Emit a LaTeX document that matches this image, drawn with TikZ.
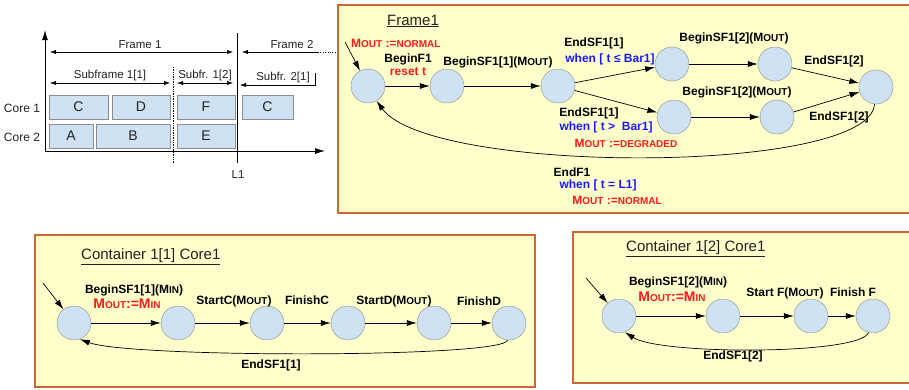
\documentclass[tikz,border=0pt]{standalone}
\usepackage{fontspec}
\setmainfont{Liberation Sans}
\usetikzlibrary{arrows.meta}
\definecolor{panelfill}{HTML}{FFFFCC}
\definecolor{panelline}{HTML}{CC6633}
\definecolor{statefill}{HTML}{CFE2F3}
\definecolor{stateline}{HTML}{8C8C8C}
\definecolor{condblue}{HTML}{1A1AFF}
\definecolor{actred}{HTML}{FF1A1A}
\definecolor{inkgray}{HTML}{222222}
\newcommand{\smallcap}[1]{{\fontsize{10}{11}\selectfont #1}}
\newcommand{\Mout}{M\smallcap{OUT}}
\newcommand{\Min}{M\smallcap{IN}}
\begin{document}
\begin{tikzpicture}[x=1pt,y=-1pt,
  state/.style={circle,draw=stateline,fill=statefill,minimum size=34pt,inner sep=0pt},
  trans/.style={-{Latex[length=10pt,width=6pt]},line width=0.7pt},
  lbl/.style={font=\bfseries\fontsize{12}{13}\selectfont,inner sep=0pt},
  cond/.style={lbl,text=condblue},
  act/.style={lbl,text=actred},
  slot/.style={draw=stateline,fill=statefill},
  plain/.style={font=\fontsize{11.5}{13}\selectfont,inner sep=0pt,text=inkgray},
  panel/.style={draw=panelline,line width=1.6pt,fill=panelfill},
  title/.style={font=\fontsize{15}{17}\selectfont,inner sep=0pt,anchor=west,text=inkgray}]
\useasboundingbox (0,0) rectangle (909,389);
\clip (0,0) rectangle (909,389);
% schedule of the frame
\draw[-{Latex[length=10pt,width=6pt]},line width=1pt] (45,151) -- (45,30);
\draw[-{Latex[length=10pt,width=6pt]},line width=0.8pt] (45,151) -- (325,151);
\draw[line width=0.8pt] (237,33) -- (237,163);
\node[plain] (lone) at (238,175) {L1};
\draw[densely dotted,line width=0.7pt] (173,67) -- (173,163);
\draw[{Latex[length=6pt,width=4pt]}-{Latex[length=6pt,width=4pt]}] (50,52) -- (233,52);
\node[plain] (frameone) at (140,45) {Frame 1};
\draw[-{Latex[length=6pt,width=4pt]}] (318,52) -- (242,52);
\draw[dotted] (318,52) -- (338,52);
\node[plain] (frametwo) at (292,45) {Frame 2};
\draw[{Latex[length=6pt,width=4pt]}-{Latex[length=6pt,width=4pt]}] (50,83) -- (170,83);
\node[plain] (subone) at (110,76) {Subframe 1[1]};
\draw[{Latex[length=6pt,width=4pt]}-{Latex[length=6pt,width=4pt]}] (177,83) -- (233,83);
\node[plain] (subtwo) at (205,76) {Subfr. 1[2]};
\draw[-{Latex[length=6pt,width=4pt]}] (315,73) -- (315,85) -- (240,85);
\node[plain] (subthree) at (283,78) {Subfr. 2[1]};
\node[plain,font=\fontsize{12}{13}\selectfont] (coreone) at (22,108) {Core 1};
\node[plain,font=\fontsize{12}{13}\selectfont] (coretwo) at (22,137) {Core 2};
\foreach \n/\a/\b/\t in {jc/49/108/C,jd/112/170/D,jf/177/235/F,jcc/242/293/C}
  \draw[slot] (\a,95) rectangle (\b,119) node[midway,plain,font=\fontsize{14}{15}\selectfont] (\n) {\t};
\foreach \n/\a/\b/\t in {ja/49/93/A,jb/96/170/B,je/177/235/E}
  \draw[slot] (\a,124) rectangle (\b,148) node[midway,plain,font=\fontsize{14}{15}\selectfont] (\n) {\t};
% Frame1 automaton
\draw[panel] (338,5) rectangle (920,213);
\node[title] (ftitle) at (387,21) {\underline{Frame1}};
\node[state] (s0) at (368,86) {};
\node[state] (s1) at (447,86) {};
\node[state] (s2) at (558,86) {};
\node[state] (s3) at (672,64) {};
\node[state] (s4) at (775,64) {};
\node[state] (s5) at (674,117) {};
\node[state] (s6) at (777,117) {};
\node[state] (s7) at (876,87) {};
\coordinate (fin) at (345,42);
\draw[line width=0.7pt,-{Latex[length=10pt,width=6pt]}] (fin) -- (s0);
\foreach \a/\b in {s0/s1,s1/s2,s2/s3,s2/s5,s3/s4,s5/s6,s4/s7,s6/s7}
  \draw[trans] (\a) -- (\b);
\draw[trans] (s7.265) .. controls (870,175) and (430,175) .. (s0.300);
\node[act,anchor=west] (initout) at (351,43) {\Mout\ :=\smallcap{NORMAL}};
\node[lbl] (beginf) at (408,59) {BeginF1};
\node[act] (resett) at (408,72) {reset t};
\node[lbl] (bsfa) at (498,62) {BeginSF1[1](\Mout)};
\node[lbl] (esfa) at (594,43) {EndSF1[1]};
\node[cond] (whenle) at (610,59) {when [ t ≤ Bar1]};
\node[lbl] (esfb) at (589,113) {EndSF1[1]};
\node[cond] (whengt) at (606,127) {when [ t >\ \ Bar1]};
\node[act] (degraded) at (626,143) {\Mout\ :=\smallcap{DEGRADED}};
\node[lbl] (bsfb) at (734,38) {BeginSF1[2](\Mout)};
\node[lbl] (bsfc) at (737,92) {BeginSF1[2](\Mout)};
\node[lbl] (esfc) at (834,61) {EndSF1[2]};
\node[lbl] (esfd) at (839,117) {EndSF1[2]};
\node[lbl] (endf) at (572,172) {EndF1};
\node[cond] (wheneq) at (598,185) {when [ t = L1]};
\node[act] (normal) at (617,200) {\Mout\ :=\smallcap{NORMAL}};
% Container 1[1] Core1
\draw[panel] (35,235) rectangle (535,387);
\node[title] (ctitle) at (81,257) {\underline{Container 1[1] Core1}};
\foreach \i/\x in {0/74,1/178,2/267,3/348,4/434,5/509}
  \node[state] (c\i) at (\x,323) {};
\coordinate (cin) at (43,283);
\draw[line width=0.7pt,-{Latex[length=10pt,width=6pt]}] (cin) -- (c0);
\foreach \a/\b in {c0/c1,c1/c2,c2/c3,c3/c4,c4/c5}
  \draw[trans] (\a) -- (\b);
\draw[trans] (c5.265) .. controls (505,358) and (130,358) .. (c0.290);
\node[lbl] (bcsa) at (134,290) {BeginSF1[1](\Min)};
\node[act,font=\bfseries\fontsize{14}{15}\selectfont] (cout) at (127,304) {\Mout:=\Min};
\node[lbl] (startc) at (234,301) {StartC(\Mout)};
\node[lbl] (finc) at (307,300) {FinishC};
\node[lbl] (startd) at (394,301) {StartD(\Mout)};
\node[lbl] (find) at (479,301) {FinishD};
\node[lbl] (ecsa) at (271,365) {EndSF1[1]};
% Container 1[2] Core1
\draw[panel] (573,232) rectangle (920,383);
\node[title] (dtitle) at (626,249) {\underline{Container 1[2] Core1}};
\foreach \i/\x in {0/619,1/723,2/811,3/873}
  \node[state] (d\i) at (\x,316) {};
\coordinate (din) at (586,278);
\draw[line width=0.7pt,-{Latex[length=10pt,width=6pt]}] (din) -- (d0);
\foreach \a/\b in {d0/d1,d1/d2,d2/d3}
  \draw[trans] (\a) -- (\b);
\draw[trans] (d3.255) .. controls (860,355) and (660,355) .. (d0.290);
\node[lbl] (bcsb) at (678,282) {BeginSF1[2](\Min)};
\node[act,font=\bfseries\fontsize{14}{15}\selectfont] (dout) at (672,297) {\Mout:=\Min};
\node[lbl] (startf) at (785,293) {Start F(\Mout)};
\node[lbl] (finf) at (853,292) {Finish F};
\node[lbl] (ecsb) at (733,356) {EndSF1[2]};
\end{tikzpicture}
\end{document}
